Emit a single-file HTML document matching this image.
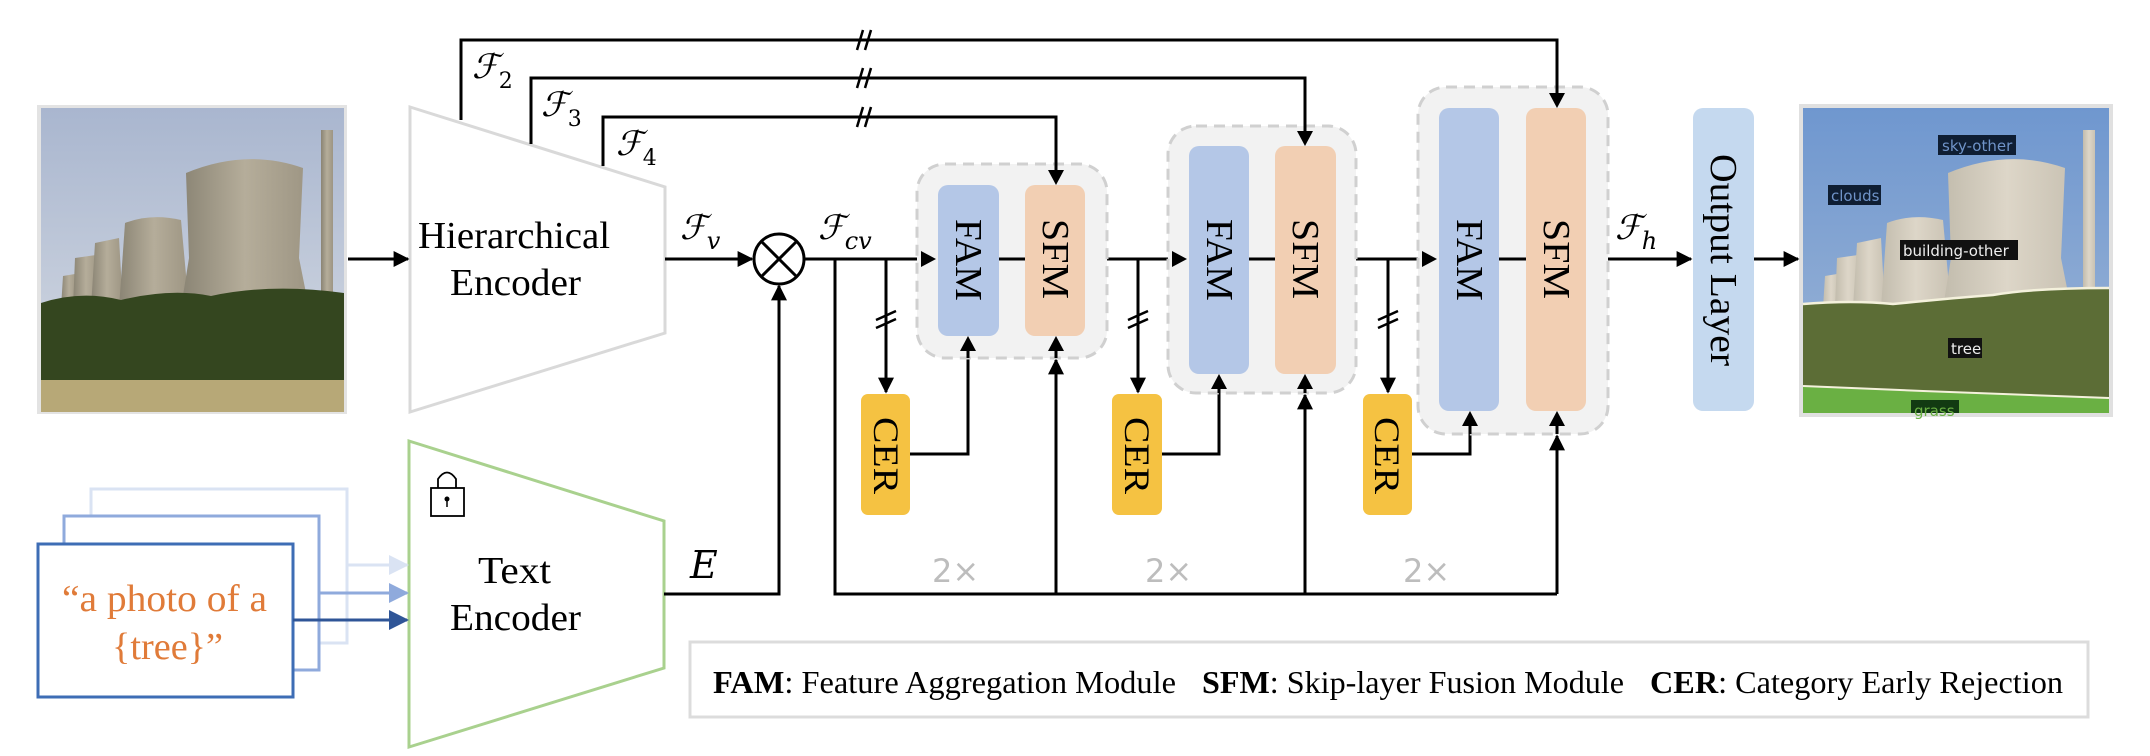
<!DOCTYPE html>
<html><head><meta charset="utf-8"><style>
html,body{margin:0;padding:0;background:#fff;}
svg{display:block;}
.t{font-family:"Liberation Serif",serif;fill:#000;}
.m{font-family:"DejaVu Serif","Liberation Serif",serif;font-style:italic;fill:#000;}
</style></head><body>
<svg width="2150" height="756" viewBox="0 0 2150 756" xmlns="http://www.w3.org/2000/svg">
<defs>
<marker id="a" markerWidth="16" markerHeight="16" refX="9" refY="5" orient="auto" markerUnits="userSpaceOnUse" viewBox="0 0 10 10"><path d="M0,0 L10,5 L0,10 z" fill="#000"/></marker>
<marker id="al" viewBox="0 0 10 10" refX="9" refY="5" markerWidth="20" markerHeight="20" orient="auto" markerUnits="userSpaceOnUse"><path d="M0,0 L10,5 L0,10 z" fill="#dae3f3"/></marker>
<marker id="am" viewBox="0 0 10 10" refX="9" refY="5" markerWidth="20" markerHeight="20" orient="auto" markerUnits="userSpaceOnUse"><path d="M0,0 L10,5 L0,10 z" fill="#8faadc"/></marker>
<marker id="ad" viewBox="0 0 10 10" refX="9" refY="5" markerWidth="20" markerHeight="20" orient="auto" markerUnits="userSpaceOnUse"><path d="M0,0 L10,5 L0,10 z" fill="#2f5597"/></marker>
<linearGradient id="sky" x1="0" y1="0" x2="0" y2="1"><stop offset="0" stop-color="#a9b6cf"/><stop offset="1" stop-color="#d6dbe3"/></linearGradient>
<linearGradient id="sky2" x1="0" y1="0" x2="0" y2="1"><stop offset="0" stop-color="#6f97cf"/><stop offset="1" stop-color="#9db5d6"/></linearGradient>
<linearGradient id="tw" x1="0" y1="0" x2="1" y2="0"><stop offset="0" stop-color="#8a8474"/><stop offset="0.5" stop-color="#b5ad9a"/><stop offset="1" stop-color="#9d9583"/></linearGradient>
<linearGradient id="tw2" x1="0" y1="0" x2="1" y2="0"><stop offset="0" stop-color="#c2bcad"/><stop offset="0.5" stop-color="#ddd6c8"/><stop offset="1" stop-color="#c9c2b3"/></linearGradient>
<g id="towers">
<path d="M20,200 L22,168 L34,166 L36,200z"/>
<path d="M32,200 L34,150 L55,147 L58,200z"/>
<path d="M50,200 L54,135 L78,130 L82,200z"/>
<path d="M78,200 L84,115 Q110,105 140,112 L148,200z"/>
<path d="M140,200 L148,150 L145,65 Q205,40 262,60 L258,150 L268,200z"/>
<rect x="280" y="22" width="12" height="178"/>
</g>
</defs>

<rect x="37" y="105" width="310" height="309" fill="#e3e3e3"/>
<g transform="translate(41,108)">
<rect width="303" height="304" fill="url(#sky)"/>
<use href="#towers" fill="url(#tw)"/>
<path d="M0,195 Q40,182 80,192 Q130,180 170,188 Q230,175 303,185 L303,280 L0,280z" fill="#34461f"/>
<rect y="272" width="303" height="32" fill="#b7a877"/>
</g>

<rect x="1799" y="104" width="314" height="313" fill="#e0e0e0"/>
<g transform="translate(1803,108)">
<rect width="306" height="305" fill="url(#sky2)"/>
<use href="#towers" fill="url(#tw2)"/>
<path d="M0,196 Q50,192 90,196 Q150,190 190,187 Q230,180 306,180 L306,305 L0,305z" fill="#5c6d36"/>
<path d="M0,196 Q50,192 90,196 Q150,190 190,187 Q230,180 306,180" fill="none" stroke="#f4f1dc" stroke-width="2.5"/>
<path d="M0,278 L120,283 L306,290 L306,305 L0,305z" fill="#6ab043"/>
<path d="M0,278 L120,283 L306,290" fill="none" stroke="#f4f1dc" stroke-width="2"/>
<g font-family="DejaVu Sans,sans-serif" font-size="15">
<rect x="135" y="27" width="78" height="20" fill="#0f1e33"/><text x="139" y="43" fill="#6f93c8">sky-other</text>
<rect x="25" y="77" width="53" height="20" fill="#0f1e33"/><text x="28" y="93" fill="#6f93c8">clouds</text>
<rect x="97" y="132" width="118" height="20" fill="#111"/><text x="100" y="148" fill="#eee">building-other</text>
<rect x="145" y="230" width="34" height="20" fill="#111"/><text x="148" y="246" fill="#eee">tree</text>
<rect x="108" y="292" width="48" height="13" fill="#123a12"/><text x="111" y="308" fill="#6ab043">grass</text>
</g>
</g>

<path d="M410,107 L665,187 L665,333 L410,412 z" fill="#fff" stroke="#d9d9d9" stroke-width="3"/>
<text class="t" x="418" y="248" font-size="38" textLength="192" lengthAdjust="spacingAndGlyphs">Hierarchical</text>
<text class="t" x="450" y="295" font-size="38" textLength="131" lengthAdjust="spacingAndGlyphs">Encoder</text>

<path d="M409,441 L664,521 L664,668 L409,747 z" fill="#fff" stroke="#a9d18e" stroke-width="3"/>
<text class="t" x="478" y="583" font-size="38" textLength="73" lengthAdjust="spacingAndGlyphs">Text</text>
<text class="t" x="450" y="630" font-size="38" textLength="131" lengthAdjust="spacingAndGlyphs">Encoder</text>
<path d="M438,488 L438,479 Q447,466 456,479 L456,488" fill="none" stroke="#000" stroke-width="1.8"/>
<rect x="431" y="488" width="33" height="28" fill="#fff" stroke="#000" stroke-width="1.8"/>
<circle cx="447" cy="499" r="2.5" fill="#000"/><line x1="447" y1="499" x2="447" y2="507" stroke="#000" stroke-width="1.5"/>

<rect x="91" y="489" width="256" height="154" fill="#fff" stroke="#dae3f3" stroke-width="3"/>
<rect x="64" y="516" width="255" height="154" fill="#fff" stroke="#8faadc" stroke-width="3"/>
<rect x="38" y="544" width="255" height="153" fill="#fff" stroke="#3e6db5" stroke-width="3"/>
<text x="62" y="611" font-family="Liberation Serif,serif" font-size="38" fill="#e07b39" textLength="205" lengthAdjust="spacingAndGlyphs">“a photo of a</text>
<text x="112" y="659" font-family="Liberation Serif,serif" font-size="38" fill="#e07b39" textLength="111" lengthAdjust="spacingAndGlyphs">{tree}”</text>
<line x1="347" y1="565" x2="407" y2="565" stroke="#dae3f3" stroke-width="3" marker-end="url(#al)"/>
<line x1="319" y1="593" x2="407" y2="593" stroke="#8faadc" stroke-width="3" marker-end="url(#am)"/>
<line x1="293" y1="620" x2="407" y2="620" stroke="#2f5597" stroke-width="3" marker-end="url(#ad)"/>

<g fill="none" stroke="#000" stroke-width="3">
<line x1="348" y1="259" x2="408" y2="259" marker-end="url(#a)"/>
<line x1="665" y1="259" x2="752" y2="259" marker-end="url(#a)"/>
<circle cx="779" cy="259" r="25" fill="#fff"/>
<line x1="761" y1="241" x2="797" y2="277"/><line x1="797" y1="241" x2="761" y2="277"/>
<polyline points="664,594 779,594 779,286" marker-end="url(#a)"/>
<line x1="804" y1="259" x2="936" y2="259" marker-end="url(#a)"/>
<line x1="1085" y1="259" x2="1187" y2="259" marker-end="url(#a)"/>
<line x1="1336" y1="259" x2="1437" y2="259" marker-end="url(#a)"/>
<line x1="1586" y1="259" x2="1691" y2="259" marker-end="url(#a)"/>
<line x1="1754" y1="259" x2="1798" y2="259" marker-end="url(#a)"/>
<polyline points="835,259 835,594 1557,594"/>
<line x1="1056" y1="594" x2="1056" y2="360" marker-end="url(#a)"/>
<line x1="1305" y1="594" x2="1305" y2="395" marker-end="url(#a)"/>
<line x1="1557" y1="594" x2="1557" y2="436" marker-end="url(#a)"/>
<line x1="886" y1="259" x2="886" y2="392" marker-end="url(#a)"/>
<line x1="1138" y1="259" x2="1138" y2="392" marker-end="url(#a)"/>
<line x1="1388" y1="259" x2="1388" y2="392" marker-end="url(#a)"/>
<polyline points="910,454 968,454 968,339" marker-end="url(#a)"/>
<polyline points="1162,454 1219,454 1219,376" marker-end="url(#a)"/>
<polyline points="1412,454 1470,454 1470,413" marker-end="url(#a)"/>
<polyline points="461,120 461,40 1557,40 1557,106" marker-end="url(#a)"/>
<polyline points="531,144 531,78 1305,78 1305,144" marker-end="url(#a)"/>
<polyline points="603,166 603,117 1056,117 1056,183" marker-end="url(#a)"/>
</g>
<g stroke="#000" stroke-width="2.5">
<line x1="857" y1="50" x2="863" y2="30"/><line x1="865" y1="50" x2="871" y2="30"/>
<line x1="857" y1="88" x2="863" y2="68"/><line x1="865" y1="88" x2="871" y2="68"/>
<line x1="857" y1="127" x2="863" y2="107"/><line x1="865" y1="127" x2="871" y2="107"/>
<line x1="876" y1="320" x2="896" y2="311"/><line x1="876" y1="328" x2="896" y2="319"/>
<line x1="1128" y1="320" x2="1148" y2="311"/><line x1="1128" y1="328" x2="1148" y2="319"/>
<line x1="1378" y1="320" x2="1398" y2="311"/><line x1="1378" y1="328" x2="1398" y2="319"/>
</g>

<rect x="917" y="164" width="190" height="194" rx="28" fill="#f2f2f2" stroke="#d0d0d0" stroke-width="3" stroke-dasharray="11,7"/>
<rect x="1168" y="126" width="188" height="267" rx="28" fill="#f2f2f2" stroke="#d0d0d0" stroke-width="3" stroke-dasharray="11,7"/>
<rect x="1418" y="87" width="190" height="347" rx="28" fill="#f2f2f2" stroke="#d0d0d0" stroke-width="3" stroke-dasharray="11,7"/>
<g stroke="#000" stroke-width="3">
<line x1="1056" y1="117" x2="1056" y2="175"/><line x1="1305" y1="78" x2="1305" y2="136"/><line x1="1557" y1="40" x2="1557" y2="98"/>
<line x1="968" y1="358" x2="968" y2="346"/><line x1="1219" y1="393" x2="1219" y2="384"/><line x1="1470" y1="434" x2="1470" y2="421"/>
<line x1="1056" y1="358" x2="1056" y2="346"/><line x1="1305" y1="393" x2="1305" y2="384"/><line x1="1557" y1="434" x2="1557" y2="421"/>
</g>
<g>
<path d="M1048,170 L1064,170 L1056,185z"/><path d="M1297,131 L1313,131 L1305,146z"/><path d="M1549,93 L1565,93 L1557,108z"/>
<path d="M921,251 L936,259 L921,267z"/><path d="M1172,251 L1187,259 L1172,267z"/><path d="M1422,251 L1437,259 L1422,267z"/>
<path d="M960,351 L976,351 L968,336z"/><path d="M1211,389 L1227,389 L1219,374z"/><path d="M1462,426 L1478,426 L1470,411z"/>
<path d="M1048,351 L1064,351 L1056,336z"/><path d="M1297,389 L1313,389 L1305,374z"/><path d="M1549,426 L1565,426 L1557,411z"/>
</g>
<rect x="938" y="185" width="61" height="151" rx="10" fill="#b4c7e7"/>
<rect x="1025" y="185" width="60" height="151" rx="10" fill="#f2cfb3"/>
<rect x="1189" y="146" width="60" height="228" rx="10" fill="#b4c7e7"/>
<rect x="1275" y="146" width="61" height="228" rx="10" fill="#f2cfb3"/>
<rect x="1439" y="108" width="60" height="303" rx="10" fill="#b4c7e7"/>
<rect x="1526" y="108" width="60" height="303" rx="10" fill="#f2cfb3"/>
<g stroke="#000" stroke-width="3">
<line x1="999" y1="259" x2="1025" y2="259"/>
<line x1="1249" y1="259" x2="1275" y2="259"/>
<line x1="1499" y1="259" x2="1526" y2="259"/>
</g>
<g class="t" font-size="38">
<text transform="translate(956,219) rotate(90)" textLength="82" lengthAdjust="spacingAndGlyphs">FAM</text>
<text transform="translate(1043,219) rotate(90)" textLength="80" lengthAdjust="spacingAndGlyphs">SFM</text>
<text transform="translate(1207,219) rotate(90)" textLength="82" lengthAdjust="spacingAndGlyphs">FAM</text>
<text transform="translate(1293,219) rotate(90)" textLength="80" lengthAdjust="spacingAndGlyphs">SFM</text>
<text transform="translate(1457,219) rotate(90)" textLength="82" lengthAdjust="spacingAndGlyphs">FAM</text>
<text transform="translate(1544,219) rotate(90)" textLength="80" lengthAdjust="spacingAndGlyphs">SFM</text>
</g>
<rect x="861" y="394" width="49" height="121" rx="7" fill="#f5c242"/>
<rect x="1112" y="394" width="50" height="121" rx="7" fill="#f5c242"/>
<rect x="1363" y="394" width="49" height="121" rx="7" fill="#f5c242"/>
<g class="t" font-size="36">
<text transform="translate(874,417) rotate(90)" textLength="77" lengthAdjust="spacingAndGlyphs">CER</text>
<text transform="translate(1125,417) rotate(90)" textLength="77" lengthAdjust="spacingAndGlyphs">CER</text>
<text transform="translate(1375,417) rotate(90)" textLength="77" lengthAdjust="spacingAndGlyphs">CER</text>
</g>
<rect x="1693" y="108" width="61" height="303" rx="10" fill="#c5d9ef"/>
<text class="t" font-size="38" transform="translate(1711,154) rotate(90)" textLength="212" lengthAdjust="spacingAndGlyphs">Output Layer</text>

<g font-family="DejaVu Sans,sans-serif" font-size="32" fill="#bdbdbd">
<text x="932" y="582">2×</text><text x="1145" y="582">2×</text><text x="1403" y="582">2×</text>
</g>

<g class="m" font-size="34">
<text x="472" y="78">ℱ<tspan font-size="22" font-style="normal" dy="10">2</tspan></text>
<text x="541" y="116">ℱ<tspan font-size="22" font-style="normal" dy="10">3</tspan></text>
<text x="616" y="155">ℱ<tspan font-size="22" font-style="normal" dy="10">4</tspan></text>
<text x="680" y="239">ℱ<tspan font-size="24" dy="10">v</tspan></text>
<text x="818" y="239">ℱ<tspan font-size="24" dy="10">cv</tspan></text>
<text x="1615" y="239">ℱ<tspan font-size="24" dy="10">h</tspan></text>
<text x="690" y="578" font-size="38">E</text>
</g>

<rect x="690" y="642" width="1398" height="75" fill="#fff" stroke="#dcdcdc" stroke-width="3"/>
<g class="t" font-size="32">
<text x="713" y="693" textLength="463" lengthAdjust="spacingAndGlyphs"><tspan font-weight="bold">FAM</tspan>: Feature Aggregation Module</text>
<text x="1202" y="693" textLength="422" lengthAdjust="spacingAndGlyphs"><tspan font-weight="bold">SFM</tspan>: Skip-layer Fusion Module</text>
<text x="1650" y="693" textLength="413" lengthAdjust="spacingAndGlyphs"><tspan font-weight="bold">CER</tspan>: Category Early Rejection</text>
</g>
</svg>
</body></html>
